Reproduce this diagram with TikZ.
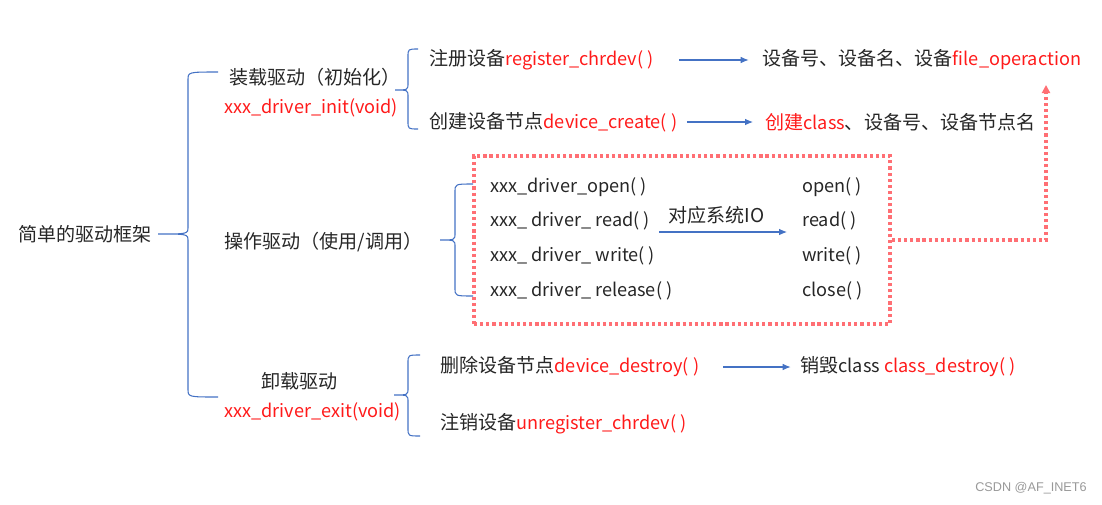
\documentclass[tikz,border=0pt]{standalone}
\usepackage{fontspec}
\setmainfont{Noto Sans CJK SC}
\newfontfamily\wmfont{Liberation Sans}
\usetikzlibrary{arrows.meta}
\definecolor{bracecol}{HTML}{4472C4}
\definecolor{redtxt}{HTML}{FF1A1A}
\definecolor{dotred}{HTML}{FF6F74}
\newcommand\lt[1]{{\fontsize{13.6}{16}\selectfont #1}}
\newcommand\rd[1]{\textcolor{redtxt}{\lt{#1}}}
% left curly brace: tip x, tip y, stem x, top y, bottom y, end x
\newcommand\brc[6]{%
  \draw[brc] (#6,#4) .. controls (#3,#4) .. (#3,#4+8) -- (#3,#2-7)
    .. controls (#3,#2) .. (#1,#2) .. controls (#3,#2) .. (#3,#2+7)
    -- (#3,#5-8) .. controls (#3,#5) .. (#6,#5);}

\begin{document}
\begin{tikzpicture}[x=0.75pt,y=-0.75pt,
    lbl/.style={anchor=west,inner sep=0,font=\fontsize{14.3}{16}\selectfont,text=black!85},
    arr/.style={draw=bracecol,-{Latex[length=6pt,width=5pt]},line width=0.8pt},
    brc/.style={draw=bracecol,line width=0.8pt},
    dotline/.style={draw=dotred,line width=2.7pt,dash pattern=on 2.4pt off 2.2pt}]
    \useasboundingbox (0,0) rectangle (1102,504);
    % root and the three stages
    \node[lbl] (root) at (18,234) {简单的驱动框架};
    \node[lbl] (load) at (229,77) {装载驱动（初始化）};
    \node[lbl] (init) at (224,108) {\rd{xxx\_driver\_init(void)}};
    \node[lbl] (use) at (224,242) {操作驱动（使用/调用）};
    \node[lbl] (unload) at (261,381) {卸载驱动};
    \node[lbl] (exit) at (224,412) {\rd{xxx\_driver\_exit(void)}};
    \brc{158}{234}{188}{72}{397}{218}
    % load
    \brc{395}{90}{408}{49}{129}{418}
    \node[lbl] (reg) at (429,60) {注册设备\rd{register\_chrdev( )}};
    \node[lbl] (devnum) at (762,60) {设备号、设备名、设备\rd{file\_operaction}};
    \node[lbl] (create) at (429,122) {创建设备节点\rd{device\_create( )}};
    \node[lbl] (cls) at (765,122) {\textcolor{redtxt}{创建\lt{class}}、设备号、设备节点名};
    \draw[arr,shorten <=19pt,shorten >=10pt] (reg.east) -- (devnum.west);
    \draw[arr,shorten <=7pt,shorten >=9pt] (create.east) -- (cls.west);
    % use
    \brc{440}{240}{455}{184}{296}{473}
    \node[dotline,inner sep=0,minimum width=312pt,minimum height=126pt] (box) at (682,240) {};
    \node[lbl] (open) at (490,187) {\lt{xxx\_driver\_open( )}};
    \node[lbl] (read) at (490,221) {\lt{xxx\_ driver\_ read( )}};
    \node[lbl] (write) at (490,256) {\lt{xxx\_ driver\_ write( )}};
    \node[lbl] (release) at (490,291) {\lt{xxx\_ driver\_ release( )}};
    \node[lbl] (sysopen) at (802,187) {\lt{open( )}};
    \node[lbl] (sysread) at (802,221) {\lt{read( )}};
    \node[lbl] (syswrite) at (802,256) {\lt{write( )}};
    \node[lbl] (sysclose) at (802,291) {\lt{close( )}};
    \node[lbl] (io) at (668,215) {对应系统IO};
    \coordinate (iofrom) at (659,232);
    \coordinate (ioto) at (787,232);
    \draw[arr] (iofrom) -- (ioto);
    \coordinate (up) at (1046,85);
    \draw[dotline,-{Triangle[length=6pt,width=6pt]}] (box.east) -| (up);
    % unload
    \brc{394}{395}{408}{355}{436}{420}
    \node[lbl] (destroy) at (440,367) {删除设备节点\rd{device\_destroy( )}};
    \node[lbl] (clsdes) at (800,367) {销毁\lt{class} \rd{class\_destroy( )}};
    \node[lbl] (unreg) at (440,424) {注销设备\rd{unregister\_chrdev( )}};
    \draw[arr,shorten <=18pt,shorten >=7pt] (destroy.east) -- (clsdes.west);
    \node[anchor=east,inner sep=0,font=\wmfont\fontsize{9.5}{10}\selectfont,text=black!40] (wm) at (1087,488) {CSDN @AF\_INET6};
\end{tikzpicture}
\end{document}
